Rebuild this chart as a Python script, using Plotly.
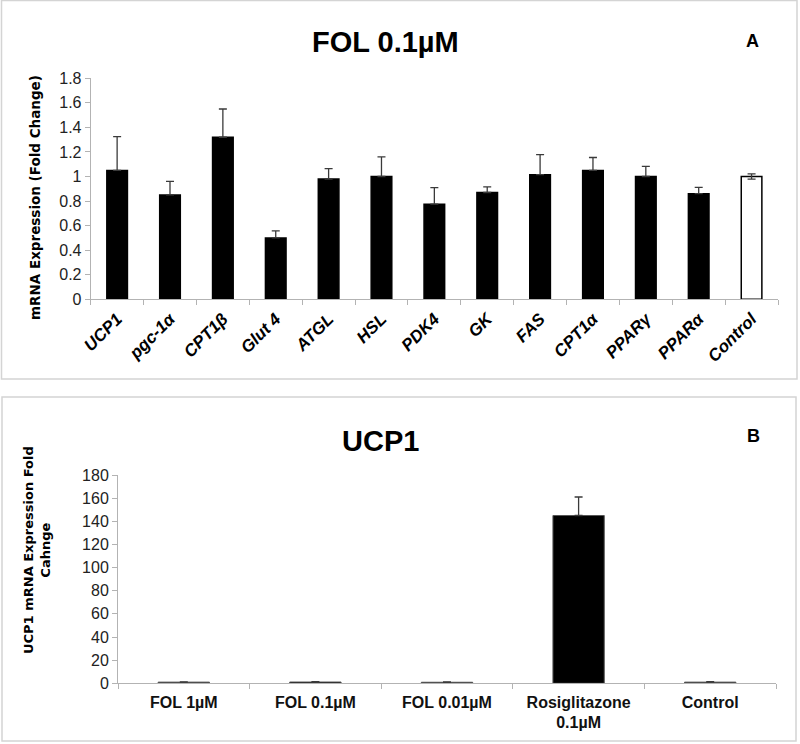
import plotly.graph_objects as go

# ---- Panel A data ----
genes = ["UCP1", "pgc-1α", "CPT1β", "Glut 4", "ATGL", "HSL", "PDK4", "GK",
         "FAS", "CPT1α", "PPARγ", "PPARα", "Control"]
fold_change = [1.05, 0.85, 1.32, 0.50, 0.98, 1.00, 0.775, 0.87,
               1.015, 1.05, 1.00, 0.86, 1.00]
err_plus = [0.275, 0.11, 0.23, 0.057, 0.085, 0.16, 0.135, 0.046,
            0.163, 0.105, 0.083, 0.052, 0.022]
err_minus = [0, 0, 0, 0, 0, 0, 0, 0, 0, 0, 0, 0, 0.022]
y_ticks_a = [0, 0.2, 0.4, 0.6, 0.8, 1, 1.2, 1.4, 1.6, 1.8]

# ---- Panel B data ----
treatments = ["FOL 1µM", "FOL 0.1µM", "FOL 0.01µM", "Rosiglitazone<br>0.1µM", "Control"]
ucp1_fold = [1.0, 1.1, 0.9, 145.0, 1.0]
ucp1_err = [0.3, 0.4, 0.3, 16.0, 0.4]
y_ticks_b = [0, 20, 40, 60, 80, 100, 120, 140, 160, 180]

W, H = 800, 744
def px(x):
    return x / W
def py(y):
    return 1 - y / H

SANS = "Liberation Sans, Arial, sans-serif"
WIDE = "DejaVu Sans, Verdana, sans-serif"
AXC = "#b3b3b3"
ERRC = "#3a3a3a"

fig = go.Figure()

colors_a = ["black"] * (len(genes) - 1) + ["white"]
fig.add_trace(go.Bar(
    x=genes, y=fold_change, xaxis="x", yaxis="y",
    marker=dict(color=colors_a, line=dict(color="black", width=1.5)),
    error_y=dict(type="data", symmetric=False, array=err_plus, arrayminus=err_minus,
                 color=ERRC, thickness=1.3, width=4),
    showlegend=False,
))

fig.add_trace(go.Bar(
    x=treatments, y=ucp1_fold, xaxis="x2", yaxis="y2",
    marker=dict(color="black", line=dict(color="#555555", width=1)),
    error_y=dict(type="data", symmetric=False, array=ucp1_err, arrayminus=[0]*5,
                 color=ERRC, thickness=1.3, width=4),
    showlegend=False,
))

fig.update_layout(
    width=W, height=H,
    margin=dict(l=0, r=0, t=0, b=0),
    paper_bgcolor="white", plot_bgcolor="white",
    bargap=0.61,
    xaxis=dict(domain=[px(90.7), px(778)], anchor="y", type="category",
               showline=True, linecolor=AXC, linewidth=1,
               ticks="outside", tickson="boundaries", ticklen=5, tickcolor=AXC,
               tickangle=-45, automargin=False, ticklabelstandoff=2,
               tickfont=dict(family=SANS, size=17, color="black", weight="bold", style="italic")),
    yaxis=dict(domain=[py(299.3), py(78.3)], anchor="x", range=[0, 1.8],
               tickvals=y_ticks_a, showgrid=False, zeroline=False,
               showline=True, linecolor=AXC, linewidth=1,
               ticks="outside", ticklen=5, tickcolor=AXC, automargin=False,
               tickfont=dict(family=SANS, size=16, color="#222222")),
    xaxis2=dict(domain=[px(118), px(776)], anchor="y2", type="category",
                showline=True, linecolor=AXC, linewidth=1,
                ticks="outside", tickson="boundaries", ticklen=5, tickcolor=AXC,
                automargin=False, ticklabelstandoff=4,
                tickfont=dict(family=SANS, size=16, color="#111111", weight="bold")),
    yaxis2=dict(domain=[py(683.3), py(475)], anchor="x2", range=[0, 180],
                tickvals=y_ticks_b, showgrid=False, zeroline=False,
                showline=True, linecolor=AXC, linewidth=1,
                ticks="outside", ticklen=5, tickcolor=AXC, automargin=False,
                tickfont=dict(family=SANS, size=16, color="#222222")),
)

# panel borders
fig.add_shape(type="rect", xref="paper", yref="paper",
              x0=px(1.5), x1=px(797), y0=py(379), y1=py(0.5),
              line=dict(color="#d4d4d4", width=1.5), layer="below")
fig.add_shape(type="rect", xref="paper", yref="paper",
              x0=px(2), x1=px(796), y0=py(741), y1=py(397),
              line=dict(color="#d4d4d4", width=1.5), layer="below")

annos = [
    dict(text="<b>FOL 0.1µM</b>", x=px(385), y=py(42), font=dict(family=SANS, size=29, color="black")),
    dict(text="<b>A</b>", x=px(752), y=py(41), font=dict(family=SANS, size=18, color="black")),
    dict(text="<b>UCP1</b>", x=px(380), y=py(441), font=dict(family=SANS, size=29, color="black")),
    dict(text="<b>B</b>", x=px(753), y=py(436), font=dict(family=SANS, size=18, color="black")),
    dict(text="<b>mRNA Expression (Fold Change)</b>", x=px(35), y=py(198), textangle=-90,
         font=dict(family=WIDE, size=13.5, color="black")),
    dict(text="<b>UCP1 mRNA Expression Fold<br>Cahnge</b>", x=px(37), y=py(550), textangle=-90,
         font=dict(family=WIDE, size=13, color="black")),
]
for a in annos:
    fig.add_annotation(xref="paper", yref="paper", showarrow=False,
                       xanchor="center", yanchor="middle", **a)

fig.write_html("out.html",
               config={"displayModeBar": False},
               post_script="document.body.style.margin='0px';document.body.style.overflow='hidden';")
